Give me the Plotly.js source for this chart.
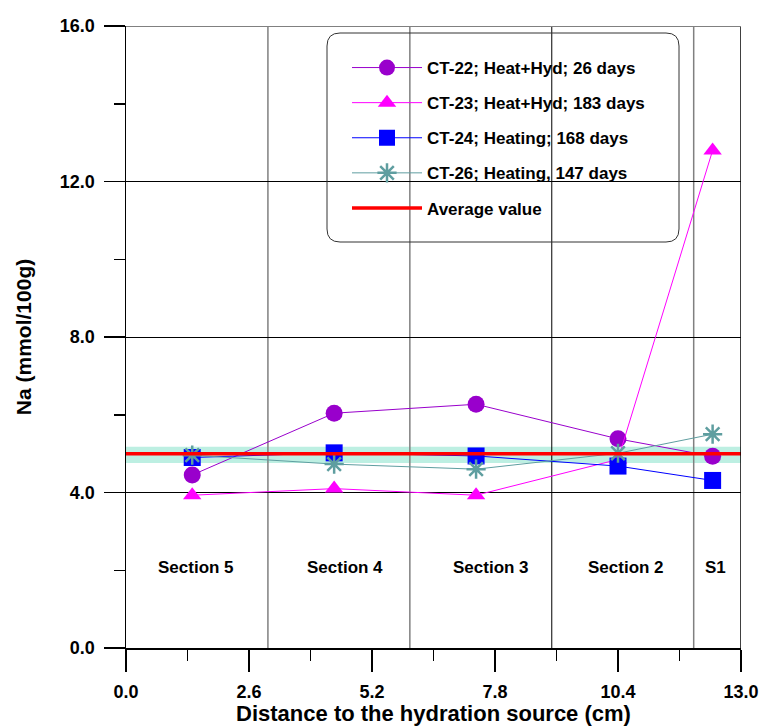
<!DOCTYPE html>
<html>
<head>
<meta charset="utf-8">
<script src="https://cdn.plot.ly/plotly-3.0.1.min.js"></script>
<style>html,body{margin:0;padding:0;background:#fff;}#chart{width:761px;height:726px;}</style>
</head>
<body>
<div id="chart"></div>
<script>
// ---- data ----
const xPos = [1.4, 4.4, 7.4, 10.4, 12.4];
const ct22 = [4.45, 6.04, 6.27, 5.38, 4.93];
const ct23 = [3.93, 4.10, 3.93, 4.85, 12.8];
const ct24 = [4.90, 5.02, 4.94, 4.68, 4.31];
const ct26 = [4.96, 4.73, 4.60, 5.01, 5.50];
const avgValue = 5.0;
const bandLow = 4.76;
const bandHigh = 5.18;
const xRange = [0, 13];
const yRange = [0, 16];
const sectionBounds = [3, 6, 9, 12];
const sectionNames = ["Section 5", "Section 4", "Section 3", "Section 2", "S1"];
const sectionLabelX = [1.48, 4.63, 7.72, 10.57, 12.47];
const sectionLabelY = 2.08;
const seriesNames = ["CT-22; Heat+Hyd; 26 days", "CT-23; Heat+Hyd; 183 days",
                     "CT-24; Heating; 168 days", "CT-26; Heating, 147 days", "Average value"];

const FONT = "Liberation Sans, Arial, Helvetica, sans-serif";
const W = 761, H = 726;
const M = {l: 126, r: 20, t: 26, b: 78};
const PW = W - M.l - M.r, PH = H - M.t - M.b;
function px2paperX(px) { return (px - M.l) / PW; }
function px2paperY(py) { return (H - M.b - py) / PH; }

function roundedRect(x0, y0, x1, y1, r) {
  const X = px2paperX, Y = px2paperY;
  const p = [];
  p.push('M' + X(x0 + r) + ',' + Y(y0));
  p.push('L' + X(x1 - r) + ',' + Y(y0));
  p.push('Q' + X(x1) + ',' + Y(y0) + ' ' + X(x1) + ',' + Y(y0 + r));
  p.push('L' + X(x1) + ',' + Y(y1 - r));
  p.push('Q' + X(x1) + ',' + Y(y1) + ' ' + X(x1 - r) + ',' + Y(y1));
  p.push('L' + X(x0 + r) + ',' + Y(y1));
  p.push('Q' + X(x0) + ',' + Y(y1) + ' ' + X(x0) + ',' + Y(y1 - r));
  p.push('L' + X(x0) + ',' + Y(y0 + r));
  p.push('Q' + X(x0) + ',' + Y(y0) + ' ' + X(x0 + r) + ',' + Y(y0));
  p.push('Z');
  return p.join(' ');
}

const traces = [
  {x: xPos, y: ct22, name: seriesNames[0], mode: 'lines+markers', legendgroup: 'a',
   line: {color: '#9900CC', width: 1},
   marker: {symbol: 'circle', size: 17, color: '#9900CC'}},
  {x: xPos, y: ct23, name: seriesNames[1], mode: 'lines+markers', legendgroup: 'b',
   line: {color: '#FF00FF', width: 1},
   marker: {symbol: 'triangle-up', size: 16, color: '#FF00FF'}},
  {x: xPos, y: ct24, name: seriesNames[2], mode: 'lines+markers', legendgroup: 'c',
   line: {color: '#0000FF', width: 1},
   marker: {symbol: 'square', size: 17, color: '#0000FF'}},
  {x: xPos, y: ct26, name: seriesNames[3], mode: 'lines+markers', legendgroup: 'd',
   line: {color: '#5F9EA0', width: 1},
   marker: {symbol: 'asterisk-open', size: 16, color: '#5F9EA0', line: {color: '#5F9EA0', width: 2.5}}},
  {x: xRange, y: [avgValue, avgValue], name: seriesNames[4], mode: 'lines', legendgroup: 'e',
   line: {color: '#FF0000', width: 3.5}}
];

const shapes = [
  {type: 'rect', xref: 'x', yref: 'y', x0: xRange[0], x1: xRange[1], y0: bandLow, y1: bandHigh,
   fillcolor: '#BDEFE2', line: {width: 0}, layer: 'below'}
];
sectionBounds.forEach((b, i) => {
  shapes.push({type: 'line', xref: 'x', yref: 'y', x0: b, x1: b, y0: yRange[0], y1: yRange[1],
    line: {color: i === 2 ? '#000000' : '#808080', width: i === 2 ? 1 : 1.5}, layer: 'below'});
});
shapes.push({type: 'line', xref: 'x', yref: 'y', x0: xRange[1], x1: xRange[1], y0: yRange[0], y1: yRange[1],
  line: {color: '#000', width: 1.5}});
shapes.push({type: 'line', xref: 'x', yref: 'y', x0: xRange[0], x1: xRange[1], y0: yRange[1], y1: yRange[1],
  line: {color: '#808080', width: 2}});
shapes.push({type: 'path', xref: 'paper', yref: 'paper', path: roundedRect(327, 33, 679, 242, 13),
  line: {color: '#333333', width: 1}, fillcolor: 'rgba(0,0,0,0)'});

const annotations = sectionNames.map((s, i) => ({
  x: sectionLabelX[i], y: sectionLabelY, xref: 'x', yref: 'y', text: s, showarrow: false,
  font: {family: FONT, size: 17, color: '#000', weight: 'bold'}
}));

const layout = {
  width: W, height: H,
  margin: M,
  paper_bgcolor: '#fff', plot_bgcolor: '#fff',
  font: {family: FONT, size: 17, color: '#000', weight: 'bold'},
  showlegend: true,
  legend: {x: px2paperX(347), y: px2paperY(50), xanchor: 'left', yanchor: 'top',
    bgcolor: 'rgba(0,0,0,0)', borderwidth: 0, tracegroupgap: 10, itemwidth: 70,
    font: {family: FONT, size: 17, color: '#000', weight: 'bold'}},
  xaxis: {range: xRange, tick0: 0, dtick: 2.6, tickformat: '.1f', ticks: 'outside', ticklen: 22,
    tickwidth: 1.5, tickcolor: '#000', showline: true, linecolor: '#000', linewidth: 1.5,
    showgrid: false, zeroline: false, ticklabelstandoff: 5,
    tickfont: {family: FONT, size: 18, weight: 'bold'},
    minor: {dtick: 1.3, ticks: 'outside', ticklen: 11, tickwidth: 1.5, tickcolor: '#000', showgrid: false},
    title: {text: 'Distance to the hydration source (cm)', standoff: 4,
      font: {family: FONT, size: 22, weight: 'bold'}}},
  yaxis: {range: yRange, tick0: 0, dtick: 4, tickformat: '.1f', ticks: 'outside', ticklen: 21,
    tickwidth: 1.5, tickcolor: '#000', showline: true, linecolor: '#000', linewidth: 1.5,
    showgrid: true, gridcolor: '#000', gridwidth: 1, zeroline: false, ticklabelstandoff: 5,
    tickfont: {family: FONT, size: 18, weight: 'bold'},
    minor: {dtick: 2, ticks: 'outside', ticklen: 11, tickwidth: 1.5, tickcolor: '#000', showgrid: false},
    title: {text: 'Na (mmol/100g)', standoff: 22,
      font: {family: FONT, size: 21, weight: 'bold'}}},
  shapes: shapes,
  annotations: annotations
};

Plotly.newPlot('chart', traces, layout, {displayModeBar: false, staticPlot: true});
</script>
</body>
</html>
